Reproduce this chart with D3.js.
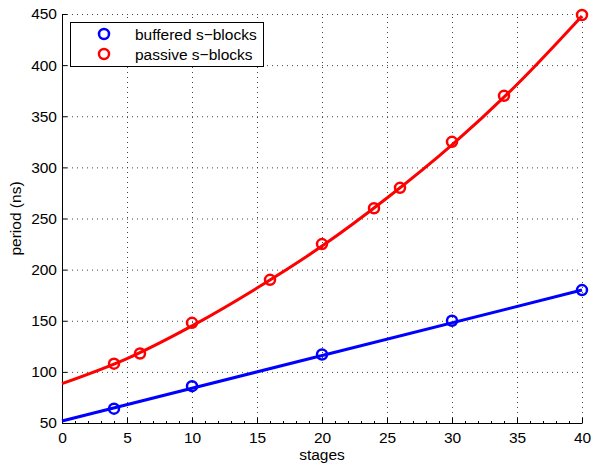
<!DOCTYPE html>
<meta charset="utf-8">
<style>
    body { margin: 0; background: #fff; }
    text { font-family: "Liberation Sans", Arial, sans-serif; fill: #000; }
    .tick text { font-size: 15.5px; }
    .grid line { stroke: #444; stroke-dasharray: 1,4; }
</style>
<body>
<script src="https://d3js.org/d3.v7.min.js"></script>
<script>
    // measured points
    var bufX = [4, 10, 20, 30, 40],
        bufY = [64, 86, 117, 150, 180];
    var pasX = [4, 6, 10, 16, 20, 24, 26, 30, 34, 40],
        pasY = [108, 118, 148, 190, 225, 260, 280, 325, 370, 449];

    // fitted curves
    var bufFitX = [0, 40],
        bufFitY = [52, 180];
    var pasFitX = [0, 5, 10, 15, 20, 25, 30, 35, 40],
        pasFitY = [88.5, 113, 145, 182, 223, 270, 322, 381, 448];

    var xTicks = [0, 5, 10, 15, 20, 25, 30, 35, 40],
        yTicks = [50, 100, 150, 200, 250, 300, 350, 400, 450];

    var width = 591, height = 466,
        pL = 62, pR = 582, pT = 14, pB = 423;

    var svg = d3.select("body").append("svg")
        .attr("width", width).attr("height", height);

    var x = d3.scaleLinear().domain([0, 40]).range([pL, pR]);
    var y = d3.scaleLinear().domain([50, 450]).range([pB, pT]);

    // grid
    var grid = svg.append("g").attr("class", "grid");
    grid.selectAll(".gx").data(xTicks.slice(1)).enter().append("line")
        .attr("x1", d => x(d) + 0.5).attr("x2", d => x(d) + 0.5)
        .attr("y1", pB).attr("y2", pT);
    grid.selectAll(".gy").data(yTicks.slice(1)).enter().append("line")
        .attr("y1", d => y(d) + 0.5).attr("y2", d => y(d) + 0.5)
        .attr("x1", pL).attr("x2", pR);

    // minor ticks on x axis
    svg.append("g").selectAll("line").data(d3.range(0, 41)).enter().append("line")
        .attr("x1", d => x(d) + 0.5).attr("x2", d => x(d) + 0.5)
        .attr("y1", pB).attr("y2", pB - 2)
        .attr("stroke", "#000");

    var xAxis = svg.append("g").attr("transform", "translate(0," + pB + ")")
        .call(d3.axisBottom(x).tickValues(xTicks).tickSizeInner(-5).tickSizeOuter(0));
    var yAxis = svg.append("g").attr("transform", "translate(" + pL + ",0)")
        .call(d3.axisLeft(y).tickValues(yTicks).tickSizeInner(-5).tickSizeOuter(0).tickPadding(5));
    svg.selectAll(".domain").attr("stroke", "#000");
    svg.selectAll(".tick line").attr("stroke", "#000");
    xAxis.selectAll("text").attr("y", 20).attr("dy", 0);

    svg.append("text").attr("x", (pL + pR) / 2).attr("y", 460)
        .attr("text-anchor", "middle").style("font-size", "15.5px").text("stages");
    svg.append("text").attr("transform", "translate(21," + (pT + pB) / 2 + ") rotate(-90)")
        .attr("text-anchor", "middle").style("font-size", "15.5px").text("period (ns)");

    var line = d3.line().x(d => x(d[0])).y(d => y(d[1])).curve(d3.curveMonotoneX);

    var series = [
        {name: "buffered s\u2212blocks", color: "#0000ff", fx: bufFitX, fy: bufFitY, px: bufX, py: bufY},
        {name: "passive s\u2212blocks", color: "#ff0000", fx: pasFitX, fy: pasFitY, px: pasX, py: pasY}
    ];

    series.forEach(function(s) {
        svg.append("path")
            .datum(s.fx.map((v, i) => [v, s.fy[i]]))
            .attr("d", line)
            .attr("fill", "none").attr("stroke", s.color).attr("stroke-width", 3);
        svg.append("g").selectAll("circle")
            .data(s.px.map((v, i) => [v, s.py[i]])).enter().append("circle")
            .attr("cx", d => x(d[0])).attr("cy", d => y(d[1])).attr("r", 5)
            .attr("fill", "none").attr("stroke", s.color).attr("stroke-width", 2.5);
    });

    // legend
    var lg = svg.append("g");
    lg.append("rect").attr("x", 70.5).attr("y", 22.5).attr("width", 193).attr("height", 44)
        .attr("fill", "#fff").attr("stroke", "#000");
    series.forEach(function(s, i) {
        var cy = 34 + i * 20;
        lg.append("circle").attr("cx", 104).attr("cy", cy).attr("r", 5)
            .attr("fill", "none").attr("stroke", s.color).attr("stroke-width", 2.5);
        lg.append("text").attr("x", 135).attr("y", cy + 5.5)
            .style("font-size", "15.5px").text(s.name);
    });
</script>
</body>
